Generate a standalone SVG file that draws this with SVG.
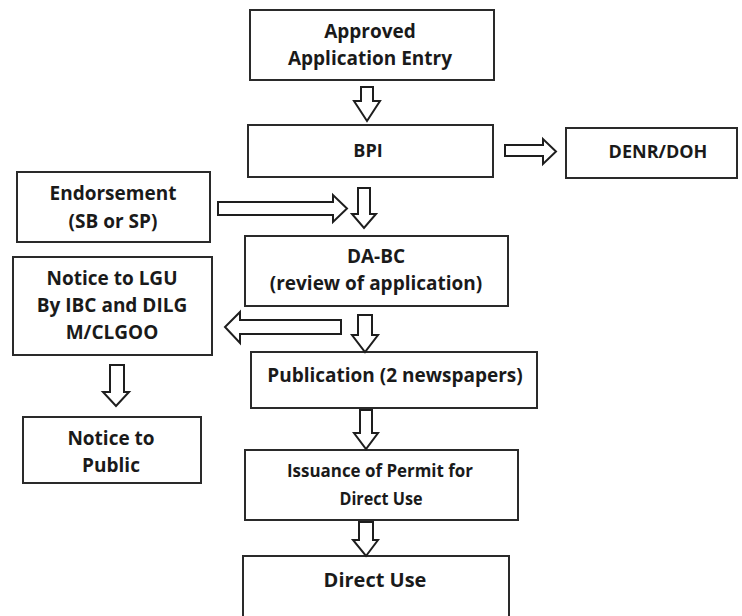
<svg xmlns="http://www.w3.org/2000/svg" width="742" height="616" viewBox="0 0 742 616">
<style>
.box{fill:#fff;stroke:#2a2a2a;stroke-width:2}
.arr{fill:#fff;stroke:#1e1e1e;stroke-width:2;stroke-linejoin:miter}
.t{font-family:"Open Sans","Liberation Sans",sans-serif;font-weight:700;font-size:19px;fill:#1a1a1a;text-anchor:middle}
</style>
<rect width="742" height="616" fill="#fff"/>
<g id="approved"><rect class="box" x="250" y="10" width="244" height="70"/><text class="t" x="370" y="38">Approved</text><text class="t" x="370" y="65">Application Entry</text></g>
<g id="bpi"><rect class="box" x="248" y="125" width="245" height="52"/><text class="t" x="368" y="157" style="font-size:18px">BPI</text></g>
<g id="denr"><rect class="box" x="566" y="128" width="171" height="50"/><text class="t" x="658" y="158" style="font-size:18px">DENR/DOH</text></g>
<g id="endorsement"><rect class="box" x="17" y="172" width="193" height="70"/><text class="t" x="113" y="200">Endorsement</text><text class="t" x="113" y="228">(SB or SP)</text></g>
<g id="dabc"><rect class="box" x="245" y="236" width="263" height="70"/><text class="t" x="376" y="263">DA-BC</text><text class="t" x="376" y="290">(review of application)</text></g>
<g id="lgu"><rect class="box" x="13" y="257" width="199" height="98"/><text class="t" x="112" y="285">Notice to LGU</text><text class="t" x="112" y="312">By IBC and DILG</text><text class="t" x="112" y="339">M/CLGOO</text></g>
<g id="public"><rect class="box" x="23" y="417" width="178" height="66"/><text class="t" x="111" y="445">Notice to</text><text class="t" x="111" y="472">Public</text></g>
<g id="publication"><rect class="box" x="251" y="352" width="286" height="56"/><text class="t" x="395" y="382">Publication (2 newspapers)</text></g>
<g id="issuance"><rect class="box" x="245" y="450" width="273" height="70"/><text class="t" x="380" y="477" style="font-size:17px" textLength="186" lengthAdjust="spacingAndGlyphs">Issuance of Permit for</text><text class="t" x="381" y="505" style="font-size:17px" textLength="83" lengthAdjust="spacingAndGlyphs">Direct Use</text></g>
<g id="directuse"><rect class="box" x="243" y="556" width="266" height="70"/><text class="t" x="375" y="587" style="font-size:20px">Direct Use</text></g>
<g id="connectors">
<polygon class="arr" points="361,87 373,87 373,101 380,101 367,121 354,101 361,101"/>
<polygon class="arr" points="358,188 370,188 370,214 376,214 364,228 352,214 358,214"/>
<polygon class="arr" points="218,202 333,202 333,195 347,208.5 333,222 333,215 218,215"/>
<polygon class="arr" points="505,145 543,145 543,139 556,151.5 543,164 543,156 505,156"/>
<polygon class="arr" points="341,320 341,334 240,334 240,343 225,327 240,312 240,320"/>
<polygon class="arr" points="358,315 372,315 372,335 378,335 365,352 352,335 358,335"/>
<polygon class="arr" points="360,410 372,410 372,433 378,433 366,449 354,433 360,433"/>
<polygon class="arr" points="359,522 373,522 373,540 378,540 366,556 353,540 359,540"/>
<polygon class="arr" points="110,365 124,365 124,392 129,392 116,406 103,392 110,392"/>
</g>
</svg>
